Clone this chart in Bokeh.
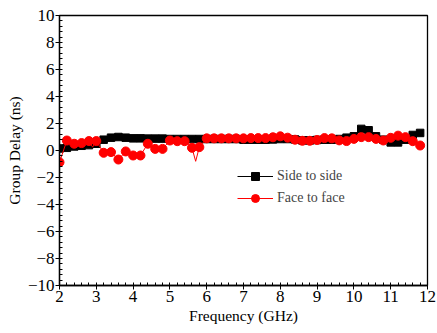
from bokeh.plotting import figure
from bokeh.models import Range1d, FixedTicker, Legend, LegendItem
from bokeh.embed import file_html
from bokeh.resources import INLINE

freq = [2.0, 2.2, 2.4, 2.6, 2.8, 3.0, 3.2, 3.4, 3.6, 3.8,
        4.0, 4.2, 4.4, 4.6, 4.8, 5.0, 5.2, 5.4, 5.6, 5.8,
        6.0, 6.2, 6.4, 6.6, 6.8, 7.0, 7.2, 7.4, 7.6, 7.8,
        8.0, 8.2, 8.4, 8.6, 8.8, 9.0, 9.2, 9.4, 9.6, 9.8,
        10.0, 10.2, 10.4, 10.6, 10.8, 11.0, 11.2, 11.4, 11.6, 11.8]

side_to_side = [0.15, 0.2, 0.3, 0.35, 0.4, 0.5, 0.8, 0.95, 1.0, 0.95,
                0.9, 0.9, 0.88, 0.88, 0.88, 0.85, 0.85, 0.85, 0.85, 0.85,
                0.85, 0.85, 0.85, 0.85, 0.85, 0.8, 0.8, 0.8, 0.8, 0.82,
                0.85, 0.85, 0.82, 0.75, 0.75, 0.78, 0.8, 0.8, 0.85, 0.95,
                1.05, 1.6, 1.5, 1.05, 0.8, 0.6, 0.6, 0.8, 1.15, 1.3]

face_to_face = [-0.87, 0.74, 0.5, 0.55, 0.7, 0.7, -0.17, -0.12, -0.67, -0.07,
                -0.37, -0.37, 0.5, 0.12, 0.12, 0.74, 0.69, 0.69, 0.2, 0.25,
                0.9, 0.9, 0.9, 0.9, 0.9, 0.9, 0.92, 0.92, 0.92, 0.98,
                1.05, 0.95, 0.8, 0.72, 0.72, 0.78, 0.92, 0.9, 0.75, 0.7,
                0.86, 0.99, 0.99, 0.86, 0.74, 0.94, 1.1, 0.99, 0.69, 0.37]

# intermediate samples of the red trace (no marker drawn there)
face_extra_x = [2.9, 5.7]
face_extra_y = [0.25, -0.8]

x_ticks = [2, 3, 4, 5, 6, 7, 8, 9, 10, 11, 12]
y_ticks = [-10, -8, -6, -4, -2, 0, 2, 4, 6, 8, 10]

red_pts = sorted(list(zip(freq, face_to_face)) + list(zip(face_extra_x, face_extra_y)))
red_line_x = [pt[0] for pt in red_pts]
red_line_y = [pt[1] for pt in red_pts]

FONT = "Liberation Serif"

p = figure(width=437, height=333, output_backend="svg", toolbar_location=None,
           x_range=Range1d(2, 12), y_range=Range1d(-10, 10),
           min_border_left=59, min_border_right=10, min_border_top=15, min_border_bottom=48)
p.background_fill_color = "white"
p.border_fill_color = "white"
p.outline_line_color = "black"
p.outline_line_width = 1.3
p.grid.visible = False

bl = p.line(freq, side_to_side, line_color="black", line_width=1)
bm = p.scatter(freq, side_to_side, marker="square", size=7.5, fill_color="black", line_color="black")
rl = p.line(red_line_x, red_line_y, line_color="red", line_width=1)
rm = p.scatter(freq, face_to_face, marker="circle", size=9, fill_color="red", line_color="red")

for ax in (p.xaxis[0], p.yaxis[0]):
    ax.axis_line_color = "black"
    ax.axis_line_width = 1.3
    ax.major_tick_line_color = "black"
    ax.minor_tick_line_color = "black"
    ax.major_tick_out = 4
    ax.major_tick_in = 0
    ax.minor_tick_in = 3
    ax.minor_tick_out = 0
    ax.major_label_text_font = FONT
    ax.major_label_text_font_size = "17px"
    ax.major_label_text_color = "black"
    ax.axis_label_text_font = FONT
    ax.axis_label_text_font_size = "15.5px"
    ax.axis_label_text_font_style = "normal"
    ax.axis_label_text_color = "black"

p.xaxis.ticker = FixedTicker(ticks=x_ticks, minor_ticks=[2 + 0.2 * i for i in range(51)])
p.yaxis.ticker = FixedTicker(ticks=y_ticks, minor_ticks=[-10 + 0.4 * i for i in range(51)])
p.xaxis.axis_label = "Frequency (GHz)"
p.yaxis.axis_label = "Group Delay (ns)"
p.xaxis.major_label_standoff = 1
p.xaxis.axis_label_standoff = 2
p.yaxis.major_label_standoff = 1
p.yaxis.axis_label_standoff = 2

legend = Legend(items=[LegendItem(label="Side to side", renderers=[bl, bm]),
                       LegendItem(label="Face to face", renderers=[rl, rm])],
                location=(178, 77))
legend.border_line_color = None
legend.background_fill_alpha = 0
legend.label_text_font = FONT
legend.label_text_font_size = "14px"
legend.glyph_width = 36
legend.label_standoff = 4
legend.spacing = 2
legend.padding = 2
legend.margin = 0
p.add_layout(legend, "center")

open("out.html", "w").write(file_html(p, INLINE))
